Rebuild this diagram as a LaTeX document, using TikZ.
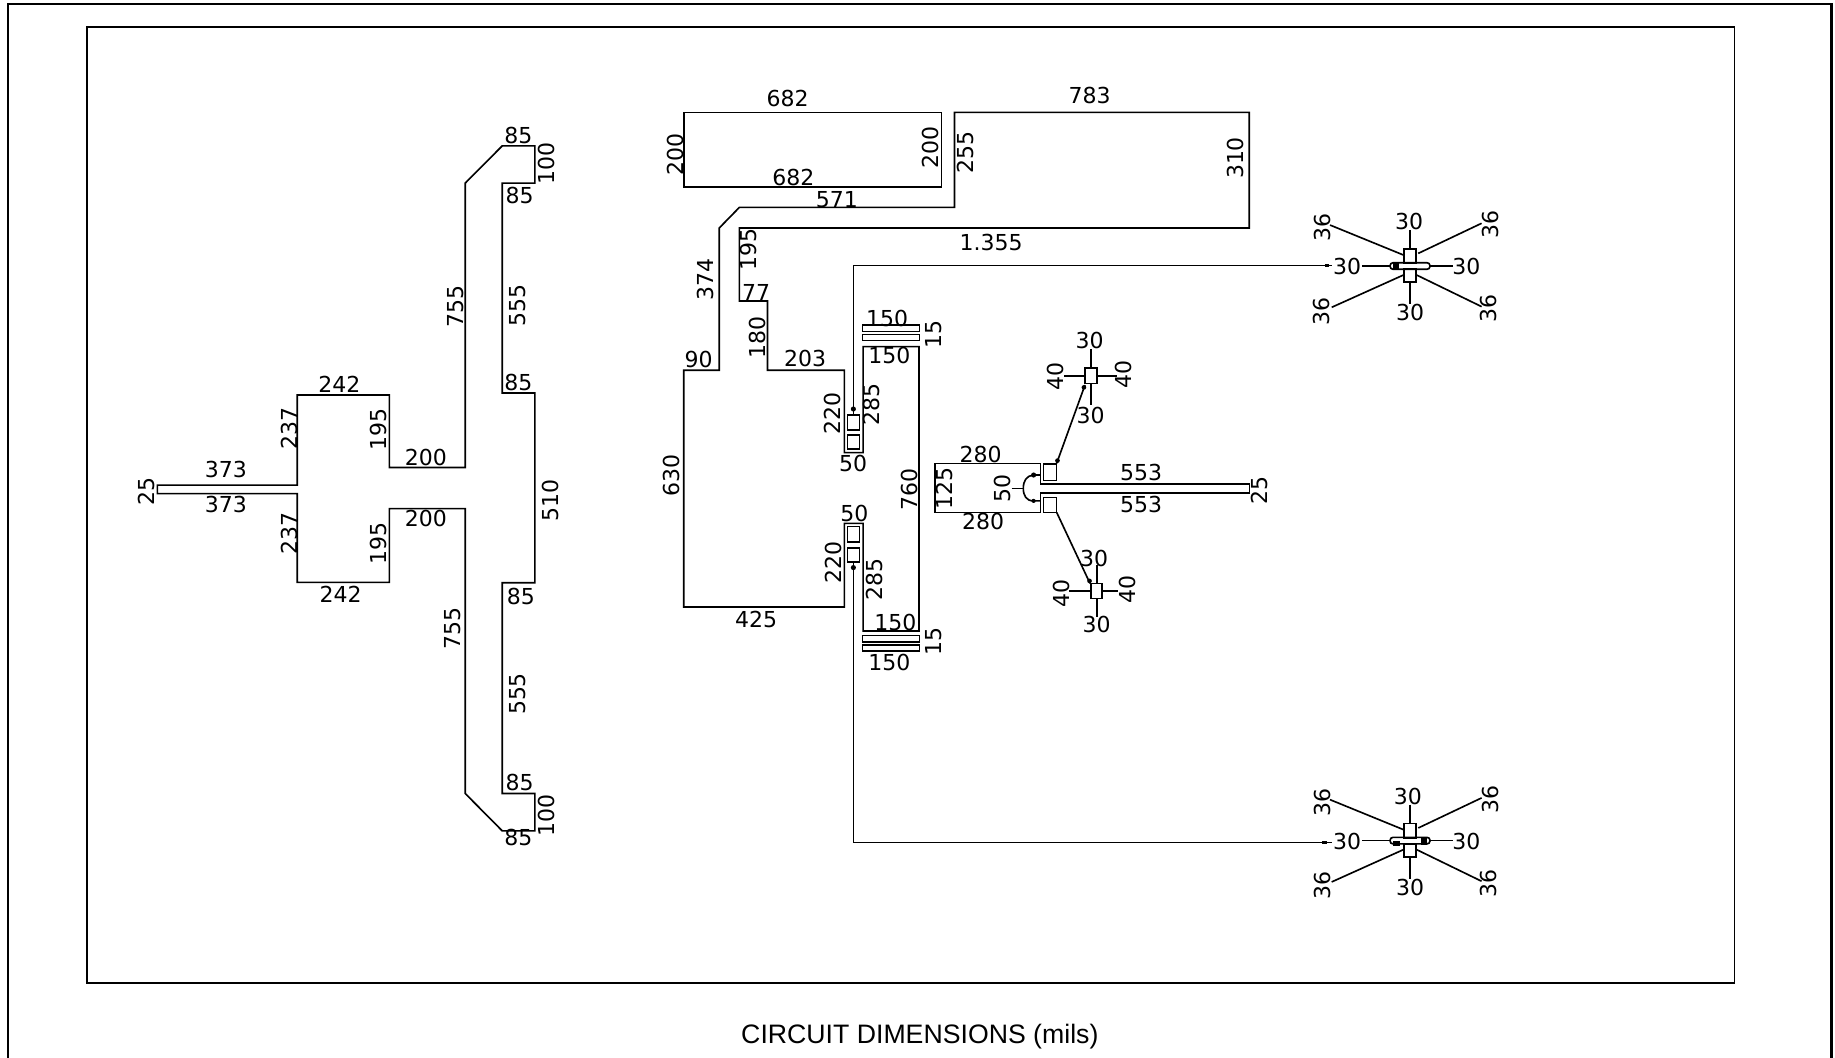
\documentclass[tikz,border=0pt]{standalone}
\usepackage{fontspec}
\setmainfont{Liberation Sans}
\newfontfamily\dimfont{DejaVu Sans}
\tikzset{
  trace/.style={line width=1.4pt,line join=miter},
  frameline/.style={line width=1.8pt},
  dimh/.style={inner sep=0pt,font=\dimfont\fontsize{18.8}{18.8}\selectfont},
  dimv/.style={dimh,rotate=90},
  blob/.style={fill=black,draw=none}
}
\begin{document}
\begin{tikzpicture}[x=1pt,y=-1pt]
\useasboundingbox (0,0) rectangle (1568,903.2);
\draw[frameline](6.5,910)--(6.5,3.4)--(1565,3.4)--(1565,910);
\draw[frameline,line width=1.5pt](74.6,22.8)rectangle(1482,839.7);
% left feed network
\draw[trace](134.5,414.5)--(254,414.5)--(254,337.5)--(332.7,337.5)--(332.7,399.5)--(397.5,399.5)--(397.5,156.5)--(429.2,124.6)--(457,124.6)--(457,156.5)--(429.2,156.5)--(429.2,335.8)--(457,335.8)--(457,498)--(429.2,498)--(429.2,678)--(457,678)--(457,710)--(429.2,710)--(397.5,678)--(397.5,434.6)--(332.7,434.6)--(332.7,497.6)--(254,497.6)--(254,421.8)--(134.5,421.8)--cycle;
% middle trace and coupled patches
\draw[trace](584.2,96)rectangle(804.4,160);
\draw[trace](721.5,316.4)--(721.5,386.8)--(737.5,386.8)--(737.5,296.2)--(785.3,296.2)--(785.3,539.2)--(737.5,539.2)--(737.5,447.2)--(721.5,447.2)--(721.5,518.7)--(584.2,518.7)--(584.2,316.4)--(614.6,316.4)--(614.6,194.8)--(631.8,177.2)--(815.6,177.2)--(815.6,96)--(1067.5,96)--(1067.5,194.8)--(631.8,194.8)--(631.8,257.2)--(655.8,257.2)--(655.8,316.4)--cycle;
\draw[trace](737.1,277.7)rectangle(785.6,283.4);
\draw[trace](737.1,285.7)rectangle(785.6,291.1);
\draw[trace](737.1,542.9)rectangle(785.6,548.6);
\draw[trace](737.1,550.9)rectangle(785.6,556);
\draw[trace](724.3,354.6)rectangle(734.3,367.4);
\draw[trace](724.3,371.7)rectangle(734.3,383.7);
\draw[trace](724.3,450)rectangle(734.3,462.9);
\draw[trace](724.3,468.5)rectangle(734.3,480);
% feed lines to the far patches
\draw[trace](729.2,354.6)--(729.2,227)--(1138,227);
\draw[trace](729.2,480)--(729.2,720)--(1138,720);
\fill[blob](729.2,349.5)circle(2.2);
\fill[blob](729.2,485)circle(2.2);
\fill[blob](1132,225.9)rectangle(1136,228.1);
\fill[blob](1130,718.9)rectangle(1134,721.1);
% far patches
\foreach \dy in {0,491}{
\begin{scope}[shift={(0,\dy)}]
\draw[trace](1199.7,212.8)rectangle(1209.7,225);
\draw[trace](1199.7,230.1)rectangle(1209.7,241.2);
\draw[trace,rounded corners=2.5pt](1187.8,224.5)rectangle(1221.9,230.1);
\draw[trace](1204.8,196.5)--(1204.8,212.8);
\draw[trace](1204.8,241.2)--(1204.8,259.8);
\draw[trace](1164,227.3)--(1187.8,227.3);
\draw[trace](1221.9,227.3)--(1241.9,227.3);
\draw[trace](1199.2,217.9)--(1136.5,192.3);
\draw[trace](1211.9,216.5)--(1266,190.8);
\draw[trace](1199.2,235)--(1137.9,262.6);
\draw[trace](1210.5,235)--(1266,262);
\end{scope}}
\fill[blob](1190.6,224)rectangle(1195.7,230.6);
\fill[blob](1214,714.8)rectangle(1219,722);
\fill[blob](1190.6,719)rectangle(1196,723);
% center feed
\draw[trace](799.2,395.9)--(889.2,395.9)--(889.2,413.6)--(1067.6,413.6)--(1067.6,421.5)--(889.2,421.5)--(889.2,437.8)--(799.2,437.8)--cycle;
\draw[trace](891.5,396.5)rectangle(902.9,410.7);
\draw[trace](891.5,425)rectangle(902.9,437.8);
\draw[trace](902.9,395.9)--(927.1,329);
\draw[trace](902.9,437.8)--(931.4,498.5);
\fill[blob](903.6,393.6)circle(2);
\fill[blob](926.2,331)circle(2);
\fill[blob](931,496.4)circle(2);
\draw[trace](864.4,417.3)--(874.4,417.3);
\draw[trace](883,405.9)..controls(877,406.5)and(874.4,411)..(874.4,417.3)..controls(874.4,423.5)and(877,428)..(883,428)--(889.2,428);
\draw[trace](883,405.9)--(889.2,405.9);
\fill[blob](883.2,405.9)circle(2.2);
\fill[blob](883.2,428)circle(1.8);
% small center stubs
\draw[trace](927.1,314.7)rectangle(937.1,327.6);
\draw[trace](932,298.3)--(932,314.7);
\draw[trace](932,327.6)--(932,346);
\draw[trace](909.5,321.3)--(927.1,321.3);
\draw[trace](937.1,321.3)--(954.2,321.3);
\draw[trace](932,498.5)rectangle(941.9,511.3);
\draw[trace](937.1,482.8)--(937.1,498.5);
\draw[trace](937.1,511.3)--(937.1,527.5);
\draw[trace](913.7,505)--(932,505);
\draw[trace](941.9,505)--(955.6,505);
% dimensions, left network
\draw(193,401)node[dimh](l373a){373};
\draw(193,431)node[dimh](l373b){373};
\draw(125,420)node[dimv](l25){25};
\draw(247,366)node[dimv](l237a){237};
\draw(247,456)node[dimv](l237b){237};
\draw(290,328)node[dimh](l242a){242};
\draw(291,508)node[dimh](l242b){242};
\draw(323,367)node[dimv](l195a){195};
\draw(323,464)node[dimv](l195b){195};
\draw(364,391)node[dimh](l200a){200};
\draw(364,443)node[dimh](l200b){200};
\draw(389,262)node[dimv](l755a){755};
\draw(387,537)node[dimv](l755b){755};
\draw(442,261)node[dimv](l555a){555};
\draw(442,593)node[dimv](l555b){555};
\draw(443,116)node[dimh](l85a){85};
\draw(444,167)node[dimh](l85b){85};
\draw(443,327)node[dimh](l85c){85};
\draw(445,510)node[dimh](l85d){85};
\draw(444,669)node[dimh](l85e){85};
\draw(443,716)node[dimh](l85f){85};
\draw(467,140)node[dimv](l100a){100};
\draw(467,697)node[dimv](l100b){100};
\draw(470,428)node[dimv](l510){510};
% dimensions, middle trace
\draw(673,84)node[dimh](m682a){682};
\draw(678,152)node[dimh](m682b){682};
\draw(577,132)node[dimv](m200a){200};
\draw(795,126)node[dimv](m200b){200};
\draw(931,82)node[dimh](m783){783};
\draw(825,130)node[dimv](m255){255};
\draw(1056,135)node[dimv](m310){310};
\draw(715,171)node[dimh](m571){571};
\draw(847,207)node[dimh](m1355){1.355};
\draw(603,239)node[dimv](m374){374};
\draw(640,213)node[dimv](m195){195};
\draw(646,250)node[dimh](m77){77};
\draw(647,288)node[dimv](m180){180};
\draw(688,306)node[dimh](m203){203};
\draw(597,307)node[dimh](m90){90};
\draw(574,406)node[dimv](m630){630};
\draw(646,529)node[dimh](m425){425};
\draw(711,353)node[dimv](m220a){220};
\draw(712,481)node[dimv](m220b){220};
\draw(745,346)node[dimv](m285a){285};
\draw(747,495)node[dimv](m285b){285};
\draw(729,396)node[dimh](m50a){50};
\draw(730,439)node[dimh](m50b){50};
\draw(758,272)node[dimh](m150a){150};
\draw(760,304)node[dimh](m150b){150};
\draw(765,532)node[dimh](m150c){150};
\draw(760,566)node[dimh](m150d){150};
\draw(798,286)node[dimv](m15a){15};
\draw(798,548)node[dimv](m15b){15};
\draw(777,418)node[dimv](m760){760};
% dimensions, center feed
\draw(807,417)node[dimv](c125){125};
\draw(838,388)node[dimh](c280a){280};
\draw(840,446)node[dimh](c280b){280};
\draw(857,417)node[dimv](c50){50};
\draw(975,404)node[dimh](c553a){553};
\draw(975,431)node[dimh](c553b){553};
\draw(1076,419)node[dimv](c25){25};
\draw(931,291)node[dimh](c30a){30};
\draw(932,355)node[dimh](c30b){30};
\draw(935,477)node[dimh](c30c){30};
\draw(937,534)node[dimh](c30d){30};
\draw(902,322)node[dimv](c40a){40};
\draw(960,320)node[dimv](c40b){40};
\draw(907,507)node[dimv](c40c){40};
\draw(963,504)node[dimv](c40d){40};
% dimensions, far patches
\draw(1204,189)node[dimh](p30a){30};
\draw(1151,228)node[dimh](p30b){30};
\draw(1253,228)node[dimh](p30c){30};
\draw(1205,267)node[dimh](p30d){30};
\draw(1130,194)node[dimv](p36a){36};
\draw(1274,192)node[dimv](p36b){36};
\draw(1129,266)node[dimv](p36c){36};
\draw(1272,264)node[dimv](p36d){36};
\draw(1203,681)node[dimh](q30a){30};
\draw(1151,719)node[dimh](q30b){30};
\draw(1253,719)node[dimh](q30c){30};
\draw(1205,758)node[dimh](q30d){30};
\draw(1130,686)node[dimv](q36a){36};
\draw(1274,683)node[dimv](q36b){36};
\draw(1130,757)node[dimv](q36c){36};
\draw(1272,755)node[dimv](q36d){36};
\draw(786,886)node[font=\fontsize{22.8}{22.8}\selectfont,inner sep=0pt](title){CIRCUIT DIMENSIONS (mils)};
\end{tikzpicture}
\end{document}
